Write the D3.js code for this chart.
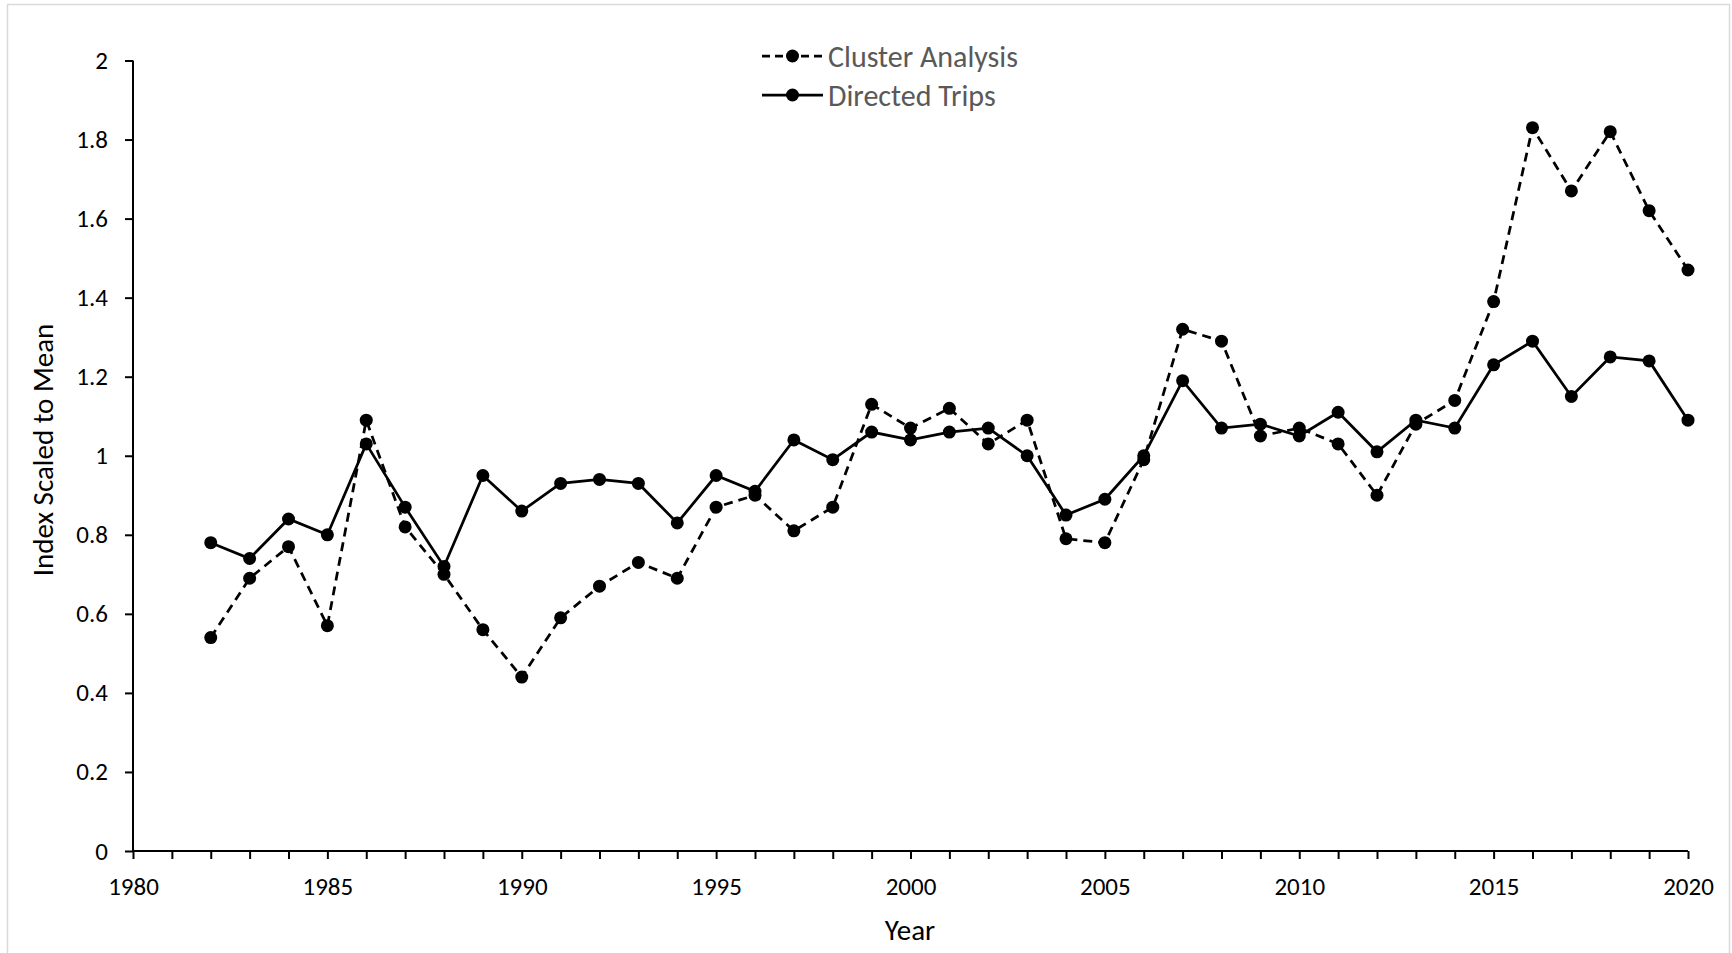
<!DOCTYPE html>
<html>
<head>
<meta charset="utf-8">
<script src="https://cdn.jsdelivr.net/npm/d3@7"></script>
<style>
  html, body { margin: 0; padding: 0; background: #fff; }
  svg { display: block; }
  svg text { font-family: Carlito, Lato, "Open Sans", sans-serif; }
</style>
</head>
<body>
<svg id="chart" width="1732" height="953"></svg>
<script>
const years = [1982,1983,1984,1985,1986,1987,1988,1989,1990,1991,1992,1993,1994,1995,1996,1997,1998,1999,2000,2001,2002,2003,2004,2005,2006,2007,2008,2009,2010,2011,2012,2013,2014,2015,2016,2017,2018,2019,2020];
const clusterAnalysis = [0.54,0.69,0.77,0.57,1.09,0.82,0.70,0.56,0.44,0.59,0.67,0.73,0.69,0.87,0.90,0.81,0.87,1.13,1.07,1.12,1.03,1.09,0.79,0.78,0.99,1.32,1.29,1.05,1.07,1.03,0.90,1.08,1.14,1.39,1.83,1.67,1.82,1.62,1.47];
const directedTrips = [0.78,0.74,0.84,0.80,1.03,0.87,0.72,0.95,0.86,0.93,0.94,0.93,0.83,0.95,0.91,1.04,0.99,1.06,1.04,1.06,1.07,1.00,0.85,0.89,1.00,1.19,1.07,1.08,1.05,1.11,1.01,1.09,1.07,1.23,1.29,1.15,1.25,1.24,1.09];
const yTicks = [0,0.2,0.4,0.6,0.8,1,1.2,1.4,1.6,1.8,2];
const xLabelTicks = [1980,1985,1990,1995,2000,2005,2010,2015,2020];
const seriesNames = ["Cluster Analysis","Directed Trips"];

const svg = d3.select("#chart");
svg.append("rect").attr("x",7.5).attr("y",4.5).attr("width",1722).attr("height",960)
  .attr("fill","#fff").attr("stroke","#d9d9d9").attr("stroke-width",1.5);

const x = d3.scaleLinear().domain([1980,2020]).range([133,1688]);
const y = d3.scaleLinear().domain([0,2]).range([851,60.5]);

// y axis
const yAxis = svg.append("g").attr("transform","translate(133,0)")
  .call(d3.axisLeft(y).tickValues(yTicks).tickSize(8).tickPadding(17).tickFormat(d3.format("~g")));
// x axis
const xAxis = svg.append("g").attr("transform","translate(0,851)")
  .call(d3.axisBottom(x).tickValues(d3.range(1980,2021)).tickSize(8).tickPadding(18)
    .tickFormat(d => xLabelTicks.includes(d) ? String(d) : ""));
[yAxis,xAxis].forEach(g => {
  g.attr("font-family", null).attr("font-size", null);
  g.selectAll("path.domain").attr("stroke","#000").attr("stroke-width",2);
  g.selectAll(".tick line").attr("stroke","#000").attr("stroke-width",2);
  g.selectAll(".tick text").attr("fill","#000").style("font-size","25px");
});
xAxis.selectAll("path.domain").attr("d","M133,0H1688");
yAxis.selectAll("path.domain").attr("d","M0,851V60.5");

// axis titles
svg.append("text").attr("x",910).attr("y",940).attr("text-anchor","middle")
  .style("font-size","29px").attr("fill","#000").text("Year");
svg.append("text").attr("transform","translate(53,450) rotate(-90)").attr("text-anchor","middle")
  .style("font-size","29px").attr("fill","#000").text("Index Scaled to Mean");

const line = d3.line().x((d,i)=>x(years[i])).y(d=>y(d));
const series = [
  {name: seriesNames[0], values: clusterAnalysis, dash: "9,6"},
  {name: seriesNames[1], values: directedTrips, dash: null}
];
series.forEach(s => {
  svg.append("path").datum(s.values).attr("d",line).attr("fill","none")
    .attr("stroke","#000").attr("stroke-width",2.75).attr("stroke-dasharray",s.dash);
  svg.append("g").selectAll("circle").data(s.values).join("circle")
    .attr("cx",(d,i)=>x(years[i])).attr("cy",d=>y(d)).attr("r",6.5).attr("fill","#000");
});

// legend
const leg = svg.append("g");
series.forEach((s,i) => {
  const yy = 56 + i*39;
  leg.append("line").attr("x1",762).attr("x2",823).attr("y1",yy).attr("y2",yy)
    .attr("stroke","#000").attr("stroke-width",2.75).attr("stroke-dasharray",s.dash ? "8,5" : null);
  leg.append("circle").attr("cx",792.5).attr("cy",yy).attr("r",6.5).attr("fill","#000");
  leg.append("text").attr("x",828).attr("y",yy).attr("dy","0.35em")
    .style("font-size","30px").attr("fill","#595959").text(s.name);
});
</script>
</body>
</html>
